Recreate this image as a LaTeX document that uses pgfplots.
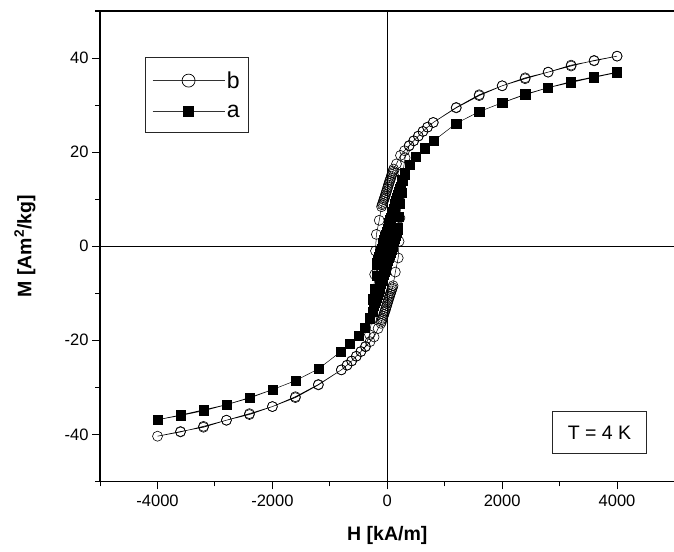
\documentclass[border=0pt]{standalone}
\usepackage{fontspec}
\setmainfont{Liberation Sans}
\usepackage{pgfplots}
\pgfplotsset{compat=1.18}
\pgfplotsset{mylegimg/.style={legend image code/.code={\draw[##1,mark repeat=2,mark phase=2] plot coordinates {(0pt,0pt) (36pt,0pt) (72pt,0pt)};}}}
\begin{document}
\begin{tikzpicture}
\useasboundingbox (-100pt,-70pt) rectangle (573.5pt,481pt);
\begin{axis}[
  at={(0pt,0pt)}, anchor=south west,
  scale only axis, width=574pt, height=470pt,
  xmin=-5000, xmax=5000, ymin=-50, ymax=50,
  xtick={-4000,-2000,0,2000,4000},
  minor xtick={-5000,-3000,-1000,1000,3000,5000},
  ytick={-40,-20,0,20,40},
  minor ytick={-50,-30,-10,10,30,50},
  tick pos=left, tick align=outside,
  major tick length=8pt, minor tick length=5pt,
  every tick/.style={black, line width=1pt},
  axis line style={line width=1.2pt},
  /pgf/number format/assume math mode=true,
  /pgf/number format/1000 sep={},
  tick label style={font=\fontsize{16.5}{19}\selectfont},
  xticklabel style={yshift=-2pt},
  xlabel={\textbf{H [kA/m]}},
  ylabel={\textbf{M [Am\textsuperscript{2}/kg]}},
  label style={font=\fontsize{19.5}{22}\selectfont},
  xlabel style={at={(axis description cs:0.5,-0.115)}, anchor=center},
  ylabel style={at={(axis description cs:-0.131,0.5)}, anchor=center},
  legend style={at={(axis description cs:0.078,0.902)}, anchor=north west,
    draw=black!85, line width=0.8pt, font=\fontsize{23}{24}\selectfont,
    inner xsep=7pt, inner ysep=12pt, row sep=11pt},
  legend cell align=left,
]
\draw[line width=1.2pt] (axis cs:0,-50) -- (axis cs:0,50);
\draw[line width=1.2pt] (axis cs:-5000,0) -- (axis cs:5000,0);

\addlegendimage{black!80, line width=0.5pt, mark=o, mark size=6.5pt, mark options={black, fill=white, line width=0.7pt}, mylegimg}
\addlegendentry{b}
\addlegendimage{black!80, line width=0.5pt, mark=square*, mark size=5pt, mark options={black}, mylegimg}
\addlegendentry{a}

% series a (filled squares)
\addplot[black, line width=0.5pt, mark=square*, mark size=4.6pt, forget plot] coordinates {
(4000,37.0) (3600,36.0) (3200,35.0) (2800,33.7) (2400,32.3) (2000,30.5) (1600,28.6) (1200,26.1)
(807,22.4) (650,20.8) (494,19.0) (390,17.3) (303,15.5) (260,14.0)
(230,12.7) (215,12.1) (200,11.5) (185,10.9) (170,10.3) (155,9.7) (140,9.1) (125,8.5) (110,7.9) (95,7.3)
(80,6.7) (65,6.1) (50,5.5) (35,4.9) (20,4.3) (5,3.7) (-10,3.1) (-25,2.5) (-40,1.9) (-55,1.3)
(-70,0.7) (-85,0.1) (-100,-0.5) (-115,-1.1) (-130,-1.7) (-145,-2.3) (-160,-2.9) (-175,-3.5) (-185,-3.9)
(-190,-6.3) (-215,-9.0) (-250,-11.3) (-300,-15.2) (-390,-17.3) (-494,-19.0) (-650,-20.8) (-807,-22.4)
(-1200,-26.1) (-1600,-28.6) (-2000,-30.5) (-2400,-32.2) (-2800,-33.7) (-3200,-34.8) (-3600,-35.9) (-4000,-36.9)
(-3600,-36.0) (-3200,-35.0) (-2800,-33.7) (-2400,-32.3) (-2000,-30.5) (-1600,-28.6) (-1200,-26.1)
(-807,-22.4) (-650,-20.8) (-494,-19.0) (-390,-17.3) (-303,-15.5) (-260,-14.0)
(-230,-12.7) (-215,-12.1) (-200,-11.5) (-185,-10.9) (-170,-10.3) (-155,-9.7) (-140,-9.1) (-125,-8.5) (-110,-7.9) (-95,-7.3)
(-80,-6.7) (-65,-6.1) (-50,-5.5) (-35,-4.9) (-20,-4.3) (-5,-3.7) (10,-3.1) (25,-2.5) (40,-1.9) (55,-1.3)
(70,-0.7) (85,-0.1) (100,0.5) (115,1.1) (130,1.7) (145,2.3) (160,2.9) (175,3.5) (185,3.9)
(190,6.3) (215,9.0) (250,11.3) (300,15.2) (390,17.3) (494,19.0) (650,20.8) (807,22.4)
(1200,26.1) (1600,28.6) (2000,30.5) (2400,32.2) (2800,33.7) (3200,34.8) (3600,35.9) (4000,36.9)
};

% series b (open circles)
\addplot[black, line width=0.5pt, mark=o, mark size=5pt, mark options={fill=white, line width=0.6pt}, forget plot] coordinates {
(4000,40.4) (3600,39.4) (3200,38.5) (2800,37.0) (2400,35.8) (2000,34.1) (1600,32.2) (1200,29.5)
(800,26.3) (700,25.3) (620,24.4) (540,23.4) (460,22.4) (380,21.4) (300,20.3) (230,19.3) (160,17.5) (110,16.4)
(100,16.0) (90,15.6) (80,15.3) (70,14.9) (60,14.5) (50,14.1) (40,13.8) (30,13.4) (20,13.0) (10,12.6)
(0,12.2) (-10,11.8) (-20,11.4) (-30,11.0) (-40,10.6) (-50,10.2) (-60,9.9) (-70,9.5) (-80,9.1) (-90,8.8) (-100,8.4)
(-140,5.5) (-190,2.5) (-205,-1.0) (-220,-6.0) (-240,-11.0) (-270,-15.5) (-310,-18.8)
(-380,-21.3) (-460,-22.4) (-540,-23.4) (-620,-24.4) (-700,-25.3) (-800,-26.3) (-1200,-29.4)
(-1600,-32.0) (-2000,-34.1) (-2400,-35.6) (-2800,-37.0) (-3200,-38.3) (-3600,-39.5) (-4000,-40.4)
(-3600,-39.4) (-3200,-38.5) (-2800,-37.0) (-2400,-35.8) (-2000,-34.1) (-1600,-32.2) (-1200,-29.5)
(-800,-26.3) (-700,-25.3) (-620,-24.4) (-540,-23.4) (-460,-22.4) (-380,-21.4) (-300,-20.3) (-230,-19.3) (-160,-17.5) (-110,-16.4)
(-100,-16.0) (-90,-15.6) (-80,-15.3) (-70,-14.9) (-60,-14.5) (-50,-14.1) (-40,-13.8) (-30,-13.4) (-20,-13.0) (-10,-12.6)
(0,-12.2) (10,-11.8) (20,-11.4) (30,-11.0) (40,-10.6) (50,-10.2) (60,-9.9) (70,-9.5) (80,-9.1) (90,-8.8) (100,-8.4)
(140,-5.5) (190,-2.5) (205,1.0) (220,6.0) (240,11.0) (270,15.5) (310,18.8)
(380,21.3) (460,22.4) (540,23.4) (620,24.4) (700,25.3) (800,26.3) (1200,29.4)
(1600,32.0) (2000,34.1) (2400,35.6) (2800,37.0) (3200,38.3) (3600,39.5) (4000,40.4)
};

\node[draw=black!85, line width=0.8pt, font=\fontsize{19.5}{22}\selectfont,
  minimum width=94pt, minimum height=42pt, inner sep=4pt] at (axis cs:3694,-39.6) {T = 4 K};
\end{axis}
\end{tikzpicture}
\end{document}
